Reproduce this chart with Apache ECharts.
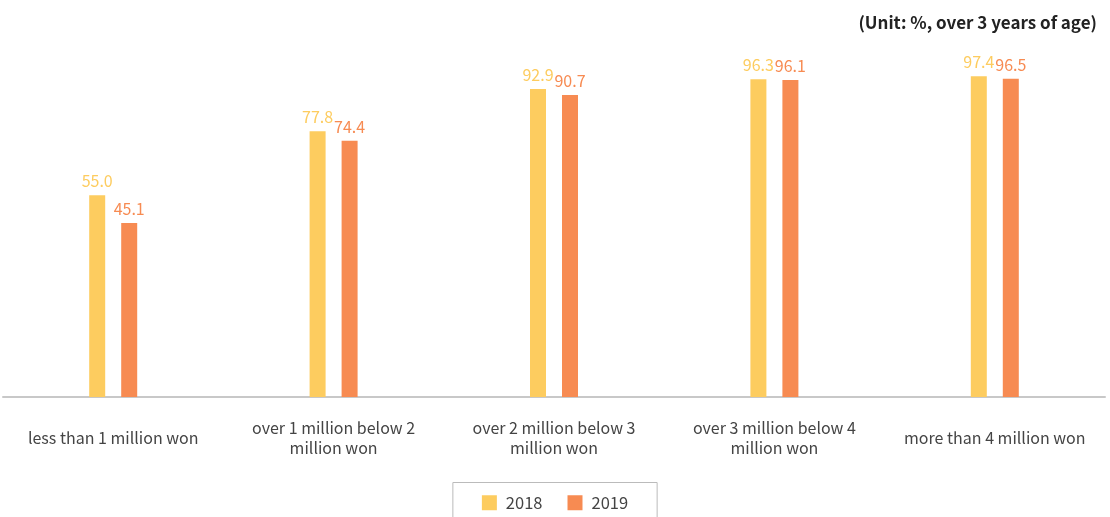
<!DOCTYPE html>
<html>
<head>
<meta charset="utf-8">
<script src="https://cdn.jsdelivr.net/npm/echarts@6/dist/echarts.min.js"></script>
<style>
html,body{margin:0;padding:0;background:#fff;}
#c{width:1110px;height:517px;}
</style>
</head>
<body>
<div id="c"></div>
<script>
const categories = [
  'less than 1 million won',
  'over 1 million below 2\nmillion won',
  'over 2 million below 3\nmillion won',
  'over 3 million below 4\nmillion won',
  'more than 4 million won'
];
const seriesNames = ['2018', '2019'];
const values2018 = [55.0, 77.8, 92.9, 96.3, 97.4];
const values2019 = [45.1, 74.4, 90.7, 96.1, 96.5];
const unitText = '(Unit: %, over 3 years of age)';

const FONT = '"Noto Sans CJK KR", "Noto Sans", sans-serif';
const YELLOW = '#FDCC5F';
const ORANGE = '#F78B52';

const chart = echarts.init(document.getElementById('c'));
chart.setOption({
  animation: false,
  textStyle: { fontFamily: FONT },
  title: {
    text: unitText,
    right: 8,
    top: 9,
    textStyle: { fontFamily: FONT, fontSize: 17, fontWeight: 'bold', color: '#222' }
  },
  legend: {
    data: seriesNames,
    bottom: -12,
    left: 'center',
    icon: 'rect',
    itemWidth: 15,
    itemHeight: 15,
    itemGap: 25,
    padding: [12, 29, 18, 29],
    borderColor: '#bbbbbb',
    borderWidth: 1,
    textStyle: { fontFamily: FONT, fontSize: 16.5, color: '#444', padding: [0, 0, 0, 4] }
  },
  grid: { left: 3, right: 5, top: 69, bottom: 120, containLabel: false },
  xAxis: {
    type: 'category',
    data: categories,
    axisLine: { show: true, onZero: false, lineStyle: { color: '#c8c8c8', width: 2 } },
    axisTick: { show: false },
    axisLabel: {
      interval: 0,
      margin: 41,
      verticalAlign: 'middle',
      fontFamily: FONT,
      fontSize: 16,
      lineHeight: 20,
      color: '#444'
    }
  },
  yAxis: {
    type: 'value',
    min: -17,
    max: 100,
    startValue: -17,
    show: false,
    splitLine: { show: false }
  },
  series: [
    {
      name: seriesNames[0],
      type: 'bar',
      data: values2018,
      barWidth: 16,
      barGap: '100%',
      itemStyle: { color: YELLOW },
      label: {
        show: true, position: 'top', distance: 6,
        formatter: p => p.value.toFixed(1),
        fontFamily: FONT, fontSize: 16, color: YELLOW
      }
    },
    {
      name: seriesNames[1],
      type: 'bar',
      data: values2019,
      barWidth: 16,
      barGap: '100%',
      itemStyle: { color: ORANGE },
      label: {
        show: true, position: 'top', distance: 6,
        formatter: p => p.value.toFixed(1),
        fontFamily: FONT, fontSize: 16, color: ORANGE
      }
    }
  ]
});
</script>
</body>
</html>
